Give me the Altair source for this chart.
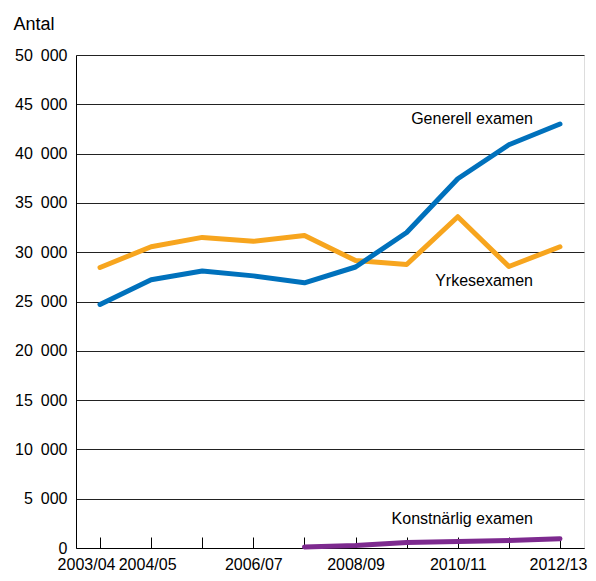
import altair as alt
import pandas as pd

years = ["2003/04", "2004/05", "2005/06", "2006/07", "2007/08",
         "2008/09", "2009/10", "2010/11", "2011/12", "2012/13"]
generell = [24700, 27200, 28100, 27600, 26900, 28500, 32000, 37450, 40900, 43000]
yrkes = [28450, 30550, 31500, 31100, 31700, 29150, 28750, 33600, 28550, 30550]
konst = [None, None, None, None, 100, 250, 550, 650, 750, 950]
series_names = ["Yrkesexamen", "Generell examen", "Konstnärlig examen"]
series_colors = ["#f7a51e", "#0071bc", "#7d2a8f"]
shown_labels = ["2003/04", "2004/05", "2006/07", "2008/09", "2010/11", "2012/13"]
label_text = ["Generell examen", "Yrkesexamen", "Konstnärlig examen"]
label_year = ["2012/13", "2012/13", "2012/13"]
label_value = [43000, 26600, 2400]

FONT = "Liberation Sans"
W, H = 508, 493

rows = []
for name, vals in zip(series_names, [yrkes, generell, konst]):
    for y, v in zip(years, vals):
        if v is not None:
            rows.append({"year": y, "value": v, "series": name})
df = pd.DataFrame(rows)
labels_df = pd.DataFrame({"year": label_year, "value": label_value, "text": label_text})
ticks_df = pd.DataFrame({"year": years})

shown_expr = "indexof(" + str(shown_labels).replace("'", '"') + ", datum.value) >= 0 ? datum.value : ''"

xscale = alt.Scale(type="point", padding=0.47)
main_x_axis = alt.Axis(
    title=None, ticks=False, labelExpr=shown_expr, labelFontSize=16,
    labelFont=FONT, labelColor="black", labelPadding=8, labelAngle=0,
    domainColor="black", domainWidth=1, orient="bottom",
    labelOffset={"condition": [
        {"test": "datum.value == '2003/04'", "value": -14},
        {"test": "datum.value == '2004/05'", "value": -4},
        {"test": "datum.value == '2012/13'", "value": -2}],
        "value": 0},
)
y_main = alt.Y(
    "value:Q",
    scale=alt.Scale(domain=[0, 50000], nice=False),
    axis=alt.Axis(
        values=list(range(0, 50001, 5000)),
        labelExpr="replace(format(datum.value, ',d'), ',', '\u2002')",
        ticks=False, labelPadding=9, labelFontSize=16, labelFont=FONT,
        labelColor="black", gridColor="#222222", gridWidth=1,
        domainColor="black", title="Antal", titleAngle=0, titleAlign="left",
        titleBaseline="alphabetic", titleX=-63, titleY=-26, titleFontSize=18,
        titleFont=FONT, titleFontWeight="normal", titleColor="black",
    ),
)

layers = []
for i, (name, col) in enumerate(zip(series_names, series_colors)):
    xa = alt.X("year:O", sort=years, scale=xscale,
               axis=main_x_axis if i == 0 else None)
    layers.append(
        alt.Chart(df).transform_filter(alt.datum.series == name)
        .mark_line(color=col, strokeWidth=5, strokeCap="round", strokeJoin="round")
        .encode(x=xa, y=y_main)
    )

text_layer = alt.Chart(labels_df).mark_text(
    align="right", baseline="alphabetic", dx=-27, fontSize=16, font=FONT, color="black"
).encode(x=alt.X("year:O", sort=years, scale=xscale, axis=None),
         y=alt.Y("value:Q"), text="text:N")

tick_layer = alt.Chart(ticks_df).mark_point(opacity=0).encode(
    x=alt.X("year:O", sort=years, scale=xscale,
            axis=alt.Axis(orient="top", offset=-H, labels=False, domain=False,
                          ticks=True, tickSize=11, tickColor="black", tickWidth=1,
                          title=None, grid=False))
)

chart = alt.layer(*layers, text_layer, tick_layer).resolve_axis(x="independent").properties(
    width=W, height=H,
    autosize=alt.AutoSizeParams(type="none"),
    padding={"left": 68, "top": 47, "right": 4, "bottom": 25},
).configure_view(stroke="black", strokeWidth=1).configure(background="white")

chart.save("out.html", embed_options={"renderer": "svg", "actions": False})
